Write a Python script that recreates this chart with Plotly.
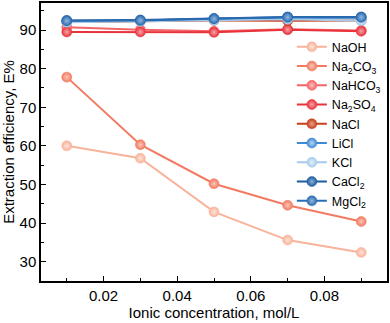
import plotly.graph_objects as go

conc = [0.01, 0.03, 0.05, 0.07, 0.09]

names = ["NaOH", "Na<sub>2</sub>CO<sub>3</sub>", "NaHCO<sub>3</sub>", "Na<sub>2</sub>SO<sub>4</sub>",
         "NaCl", "LiCl", "KCl", "CaCl<sub>2</sub>", "MgCl<sub>2</sub>"]

naoh = [60.0, 56.8, 42.9, 35.6, 32.4]
na2co3 = [77.8, 60.3, 50.2, 44.6, 40.4]
nahco3 = [90.7, 90.1, 89.7, 90.2, 89.9]
na2so4 = [89.5, 89.5, 89.4, 90.1, 89.7]
nacl = [92.1, 92.3, 92.5, 92.4, 92.5]
licl = [92.3, 92.5, 92.9, 93.2, 93.2]
kcl = [92.0, 92.2, 92.5, 92.8, 92.4]
cacl2 = [92.5, 92.6, 93.0, 93.4, 93.4]
mgcl2 = [92.4, 92.5, 92.9, 93.3, 93.3]

series = [naoh, na2co3, nahco3, na2so4, nacl, licl, kcl, cacl2, mgcl2]

colors = ["#f8b39a", "#f27a62", "#f26466", "#e8333c", "#c8401c",
          "#3e8ad4", "#a6cbea", "#1c5c9e", "#2a6cb2"]
lights = ["#fde3d8", "#fbc7b8", "#fbc0c0", "#f7a4a8", "#eaa08a",
          "#b9d6f2", "#e4f0fa", "#8eb1d8", "#94b6dc"]

FONT = "Liberation Sans, Arial, sans-serif"

fig = go.Figure()
for name, ys, c, lc in zip(names, series, colors, lights):
    fig.add_trace(
        go.Scatter(
            x=conc,
            y=ys,
            name=name,
            mode="lines+markers",
            line=dict(color=c, width=2),
            marker=dict(
                size=10,
                color=c,
                gradient=dict(type="radial", color=lc),
                line=dict(color=c, width=0.5),
            ),
        )
    )

axis_common = dict(
    showline=True,
    linecolor="black",
    linewidth=1.5,
    mirror=True,
    ticks="inside",
    ticklen=5,
    tickwidth=1.2,
    tickcolor="black",
    showgrid=False,
    zeroline=False,
    automargin=False,
    tickfont=dict(family=FONT, size=15, color="black"),
    title_font=dict(family=FONT, size=15, color="black"),
)

fig.update_layout(
    width=390,
    height=323,
    autosize=False,
    margin=dict(l=41, r=3, t=3, b=42),
    paper_bgcolor="white",
    plot_bgcolor="white",
    font=dict(family=FONT, color="black"),
    xaxis=dict(
        range=[0.003, 0.097],
        tickvals=[0.02, 0.04, 0.06, 0.08],
        ticktext=["0.02", "0.04", "0.06", "0.08"],
        minor=dict(tickvals=[0.01, 0.03, 0.05, 0.07, 0.09], ticks="inside", ticklen=3, tickcolor="black"),
        title_text="Ionic concentration, mol/L",
        title_standoff=2,
        **axis_common,
    ),
    yaxis=dict(
        range=[25, 97],
        tickvals=[30, 40, 50, 60, 70, 80, 90],
        minor=dict(tickvals=[35, 45, 55, 65, 75, 85, 95], ticks="inside", ticklen=3, tickcolor="black"),
        title_text="Extraction efficiency, E%",
        title_standoff=6,
        **axis_common,
    ),
    legend=dict(
        x=0.725,
        y=0.895,
        xanchor="left",
        yanchor="top",
        bgcolor="rgba(0,0,0,0)",
        font=dict(family=FONT, size=12.5, color="black"),
        tracegroupgap=0,
        itemwidth=30,
    ),
)

# drop the browser's default 8px body margin so the figure sits at the page corner
fig.write_html(
    "out.html",
    config={"displayModeBar": False},
    post_script="document.body.style.margin='0';",
)
